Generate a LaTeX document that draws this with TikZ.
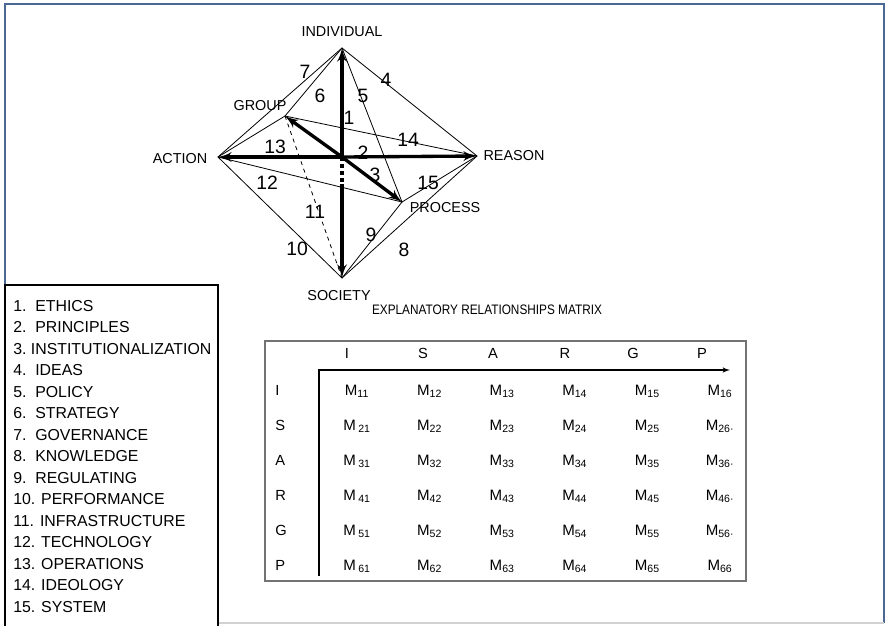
\documentclass[tikz,border=0pt]{standalone}
\usepackage{fontspec}
\setmainfont{Liberation Sans}
\newfontfamily\narrowsans[FakeStretch=0.86]{Liberation Sans}
\usetikzlibrary{arrows}
\usetikzlibrary{calc}
\tikzstyle{line} = [draw, -latex']
\definecolor{framecol}{RGB}{74,104,145}

\begin{document}
\begin{tikzpicture}[x=0.75pt, y=-0.75pt,
				pole/.style={font=\fontsize{10.8}{12}\selectfont, inner sep=1pt},
				num/.style={font=\fontsize{14.5}{16}\selectfont, inner sep=0pt},
				edge/.style={draw, line width=0.6pt},
				spoke/.style={draw, line width=2.5pt, -latex'},
				item/.style={anchor=west, font=\fontsize{11.9}{14}\selectfont, inner sep=0pt},
				hdr/.style={anchor=base, font=\fontsize{11}{12}\selectfont, inner sep=0pt},
				rowlab/.style={anchor=base west, font=\fontsize{11}{12}\selectfont, inner sep=0pt},
				cell/.style={anchor=base, font=\fontsize{11.3}{12}\selectfont, inner sep=0pt}]
				\useasboundingbox (0,0) rectangle (885,626);
				
				% page frame
				\draw[framecol, line width=1.5pt] (5,285) -- (5,3.5) -- (884,3.5) -- (884,623);
				\draw[black!18, line width=0.8pt] (218,623) -- (884,623);
				
				% the six poles of the diamond
				\coordinate (c) at (342,157);
				\coordinate (ind) at (342,48);
				\coordinate (act) at (218,157);
				\coordinate (rea) at (477,156);
				\coordinate (soc) at (342,278);
				\coordinate (grp) at (285,116);
				\coordinate (pro) at (402,202);
				\coordinate (dotend) at (342,184);
				
				\draw[edge] (act) -- (ind) -- (rea) -- (soc) -- cycle;
				\draw[edge] (act) -- (grp) -- (ind);
				\draw[edge] (ind) -- (pro) -- (rea);
				\draw[edge] (grp) -- (rea);
				\draw[edge] (act) -- (pro) -- (soc);
				\draw[edge, dashed] (grp) -- (soc);
				
				\draw[spoke] (c) -- (ind);
				\draw[spoke] (c) -- (act);
				\draw[spoke] (c) -- (rea);
				\draw[spoke] (c) -- (grp);
				\draw[spoke] (c) -- (pro);
				\draw[line width=2.5pt, dash pattern=on 3pt off 2.2pt] (c) -- (dotend);
				\draw[spoke] (dotend) -- (soc);
				
				\node[pole] (indlab) at (342,32) {INDIVIDUAL};
				\node[pole] (grplab) at (260,106) {GROUP};
				\node[pole] (actlab) at (180,159) {ACTION};
				\node[pole] (realab) at (514,156) {REASON};
				\node[pole] (prolab) at (445,208) {PROCESS};
				\node[pole] (soclab) at (339,296) {SOCIETY};
				
				\node[num] (n1) at (349,118) {1};
				\node[num] (n2) at (363,153) {2};
				\node[num] (n3) at (375,175) {3};
				\node[num] (n4) at (386,80) {4};
				\node[num] (n5) at (363,96) {5};
				\node[num] (n6) at (320,96) {6};
				\node[num] (n7) at (305,72) {7};
				\node[num] (n8) at (404,250) {8};
				\node[num] (n9) at (371,235) {9};
				\node[num] (n10) at (297,249) {10};
				\node[num] (n11) at (315,212) {11};
				\node[num] (n12) at (267,183) {12};
				\node[num] (n13) at (275,147) {13};
				\node[num] (n14) at (408,140) {14};
				\node[num] (n15) at (428,183) {15};
				
				% key
				\draw[line width=1.2pt] (5,626) -- (5,285) -- (218,285) -- (218,626);
				\foreach \txt [count=\i] in {1.\ \ ETHICS, 2.\ \ PRINCIPLES, 3.\ INSTITUTIONALIZATION,
						4.\ \ IDEAS, 5.\ \ POLICY, 6.\ \ STRATEGY, 7.\ \ GOVERNANCE, 8.\ \ KNOWLEDGE,
						9.\ \ REGULATING, 10. PERFORMANCE, 11. INFRASTRUCTURE, 12. TECHNOLOGY,
						13. OPERATIONS, 14. IDEOLOGY, 15. SYSTEM}
					\node[item] (key\i) at (13, {305.7+21.5*(\i-1)}) {\txt};
				
				% matrix
				\node[font=\narrowsans\fontsize{10.3}{12}\selectfont] (mtitle) at (487,310) {EXPLANATORY RELATIONSHIPS MATRIX};
				\draw[black!55, line width=0.8pt] (265,341) rectangle (746,581);
				\coordinate (axbot) at (319,576);
				\coordinate (axcorner) at (319,370);
				\coordinate (axend) at (730,370);
				\draw[line width=0.9pt, -latex'] (axbot) -- (axcorner) -- (axend);
				\foreach \h/\x [count=\c] in {I/347, S/423, A/493, R/565, G/633, P/702}
					\node[hdr] (h\c) at (\x,358) {\h};
				\foreach \rl [count=\r] in {I,S,A,R,G,P} {
					\node[rowlab] (r\r) at (275, {395+35*(\r-1)}) {\rl};
					\foreach \c in {1,...,6}
						\node[cell] (m\r\c) at ({357+72.6*(\c-1)}, {395+35*(\r-1)})
							{M\ifnum\c=1 \ifnum\r>1 \,\fi\fi\textsubscript{\r\c\ifnum\c=6 \ifnum\r>1 \ifnum\r<6 ·\fi\fi\fi}};
				}
			\end{tikzpicture}
\end{document}
